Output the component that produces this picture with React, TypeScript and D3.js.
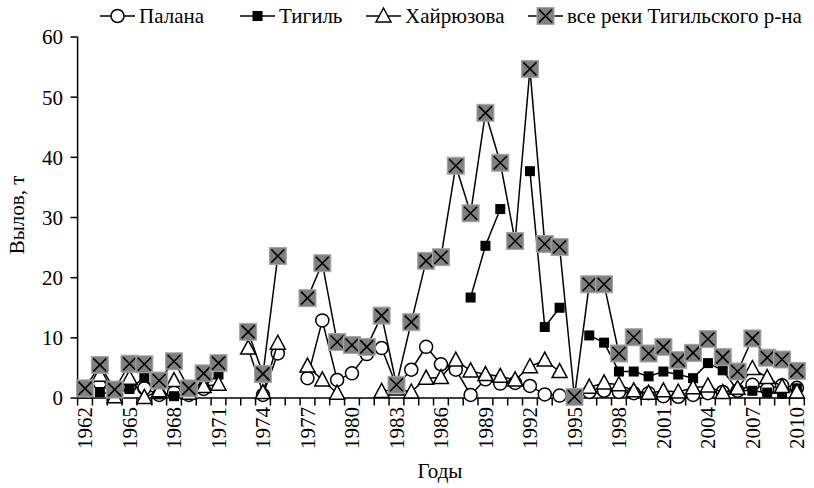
import React from 'react';
import * as d3 from 'd3';

const years = d3.range(1962, 2011);

// Палана
const palana = [null, 2.5, 0.5, 2.0, 1.6, 0.5, 0.9, 0.5, 1.5, null,
  null, null, 0.5, 7.4, null, 3.3, 12.9, 3.0, 4.1, 7.3,
  8.3, 2.0, 4.7, 8.5, 5.6, 4.7, 0.5, 3.1, 2.4, 2.5,
  2.0, 0.6, 0.4, 0, 1.0, 1.2, 1.0, 0.8, 0.8, 0.3,
  0.2, 0.5, 0.8, 1.0, 1.2, 2.2, 1.5, 2.1, 1.7];
// Тигиль
const tigil = [null, 1.0, 0.6, 1.5, 3.4, 0.6, 0.3, 1.0, 2.0, 3.9,
  null, null, null, null, null, null, null, null, null, null,
  null, null, null, null, null, null, 16.7, 25.3, 31.4, null,
  37.7, 11.8, 15.0, null, 10.4, 9.2, 4.4, 4.4, 3.6, 4.4,
  3.9, 3.3, 5.8, 4.6, 1.3, 1.2, 0.9, 0.7, 1.6];
// Хайрюзова
const hairyuzova = [1.0, 3.8, 0.2, 3.3, 0.1, 1.2, 2.9, 0.8, 1.9, 2.3,
  null, 8.3, 0.9, 9.1, null, 5.3, 3.0, 0.8, null, null,
  1.1, 1.5, 1.0, 3.3, 3.4, 6.3, 4.5, 3.9, 3.6, 3.0,
  5.2, 6.3, 4.4, null, 1.8, 2.5, 2.2, 1.2, 0.8, 1.2,
  1.0, 1.7, 2.0, 0.9, 1.6, 4.9, 3.4, 1.9, 1.0];
// все реки Тигильского р-на
const allRivers = [1.6, 5.5, 1.4, 5.7, 5.6, 2.9, 6.1, 1.6, 4.1, 5.8,
  null, 11.0, 4.0, 23.6, null, 16.6, 22.4, 9.3, 8.8, 8.5,
  13.7, 2.2, 12.6, 22.8, 23.4, 38.6, 30.7, 47.4, 39.1, 26.1,
  54.7, 25.6, 25.1, 0.2, 18.9, 18.9, 7.4, 10.1, 7.4, 8.5,
  6.3, 7.5, 9.8, 6.8, 4.4, 9.9, 6.7, 6.4, 4.5];

const yTicks = [0, 10, 20, 30, 40, 50, 60];
const labelYears = years.filter((y) => (y - 1962) % 3 === 0);

const seriesNames = ['Палана', 'Тигиль', 'Хайрюзова', 'все реки Тигильского р-на'];
const seriesKinds = ['circle', 'square', 'triangle', 'xbox'];
const seriesData = [palana, tigil, hairyuzova, allRivers];

const W = 814, H = 488;

function Marker({ kind, x, y }: { kind: string; x: number; y: number }) {
  if (kind === 'circle')
    return <circle cx={x} cy={y} r={6.5} fill="#fff" stroke="#000" strokeWidth={1.5} />;
  if (kind === 'square')
    return <rect x={x - 5} y={y - 5} width={10} height={10} fill="#000" />;
  if (kind === 'triangle')
    return (
      <path d={`M${x},${y - 8}L${x + 7.5},${y + 6}L${x - 7.5},${y + 6}Z`}
        fill="#fff" stroke="#000" strokeWidth={1.5} strokeLinejoin="miter" />
    );
  const s = 8.5, k = 6.5;
  return (
    <g>
      <rect x={x - s} y={y - s} width={2 * s} height={2 * s} fill="#808080" stroke="#a6a6a6" strokeWidth={1} />
      <path d={`M${x - k},${y - k}L${x + k},${y + k}M${x + k},${y - k}L${x - k},${y + k}`}
        stroke="#000" strokeWidth={1.6} />
    </g>
  );
}

export default function App() {
  const x = d3.scaleBand<number>().domain(years).range([77.6, 804.3]).padding(0);
  const y = d3.scaleLinear().domain([0, 60]).range([398, 37]);
  const cx = (yr: number) => (x(yr) as number) + x.bandwidth() / 2;

  const line = d3.line<number | null>()
    .defined((d) => d !== null)
    .x((_, i) => cx(years[i]))
    .y((d) => y(d as number));

  const legendX = [100, 240, 366, 528];

  return (
    <svg width={W} height={H}
      style={{ position: 'absolute', left: 0, top: 0, background: '#fff', fontFamily: "'Liberation Serif', serif" }}>
      {/* axes */}
      <line x1={77.6} x2={77.6} y1={y(60)} y2={y(0)} stroke="#000" strokeWidth={1.5} />
      <line x1={77.6} x2={804.3} y1={y(0)} y2={y(0)} stroke="#000" strokeWidth={1.5} />
      {yTicks.map((t) => (
        <g key={t}>
          <line x1={70.5} x2={77.6} y1={y(t)} y2={y(t)} stroke="#000" strokeWidth={1.5} />
          <text x={63} y={y(t)} dy="0.35em" textAnchor="end" fontSize={21}>{t}</text>
        </g>
      ))}
      {years.concat([2011]).map((yr, i) => {
        const px = 77.6 + i * x.bandwidth();
        return <line key={yr} x1={px} x2={px} y1={398} y2={405.5} stroke="#000" strokeWidth={1.5} />;
      })}
      {labelYears.map((yr) => (
        <text key={yr} transform={`translate(${cx(yr)},407) rotate(-90)`} textAnchor="end" dy="0.35em"
          fontSize={21}>{yr}</text>
      ))}
      <text transform="translate(17,215) rotate(-90)" textAnchor="middle" dy="0.35em" fontSize={21}>Вылов, т</text>
      <text x={440} y={478} textAnchor="middle" fontSize={21}>Годы</text>

      {/* series */}
      {seriesData.map((data, si) => (
        <g key={si}>
          <path d={line(data) || ''} fill="none" stroke="#000" strokeWidth={1.5} />
          {data.map((v, i) => v === null ? null : (
            <Marker key={i} kind={seriesKinds[si]} x={cx(years[i])} y={y(v)} />
          ))}
        </g>
      ))}

      {/* legend */}
      {seriesNames.map((name, i) => (
        <g key={name}>
          <line x1={legendX[i]} x2={legendX[i] + 35} y1={16} y2={16} stroke="#000" strokeWidth={1.5} />
          <Marker kind={seriesKinds[i]} x={legendX[i] + 17.5} y={16} />
          <text x={legendX[i] + 39} y={16} dy="0.35em" fontSize={21}>{name}</text>
        </g>
      ))}
    </svg>
  );
}
